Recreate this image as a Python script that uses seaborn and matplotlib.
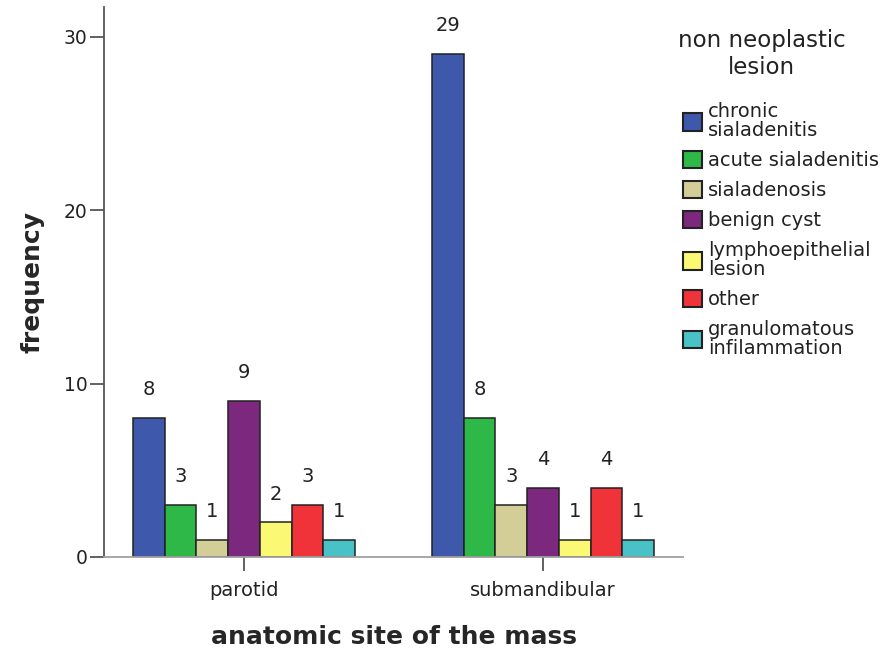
import pandas as pd
import matplotlib.pyplot as plt
import seaborn as sns

sites = ['parotid', 'submandibular']
lesions = ['chronic\nsialadenitis', 'acute sialadenitis', 'sialadenosis', 'benign cyst',
           'lymphoepithelial\nlesion', 'other', 'granulomatous\ninfilammation']
parotid = [8, 3, 1, 9, 2, 3, 1]
submandibular = [29, 8, 3, 4, 1, 4, 1]
colors = ['#3e58ac', '#2eb848', '#d3ce97', '#7b287e', '#fbf873', '#ef3338', '#48c1c7']

df = pd.DataFrame({
    'site': [sites[0]] * len(lesions) + [sites[1]] * len(lesions),
    'lesion': lesions * 2,
    'freq': parotid + submandibular,
})

sns.set_style('white')
plt.rcParams['font.family'] = ['DejaVu Sans']

fig = plt.figure(figsize=(8.9, 6.51), dpi=100)
ax = fig.add_axes([0.1169, 0.1444, 0.6505, 0.8448])

sns.barplot(data=df, x='site', y='freq', hue='lesion', hue_order=lesions, order=sites,
            palette=colors, width=0.742, gap=0, edgecolor='#222222', linewidth=1.1,
            saturation=1, ax=ax)

for c in ax.containers:
    ax.bar_label(c, padding=13.5, fontsize=14, color='#222222')

ax.set_xlim(-0.468, 1.468)
ax.set_ylim(0, 31.7)
ax.set_yticks([0, 10, 20, 30])
ax.tick_params(axis='y', left=True, length=10, width=1.3, color='#555555',
               labelsize=13.5, pad=2, labelcolor='#222222')
ax.tick_params(axis='x', bottom=True, length=10, width=1.3, color='#555555',
               labelsize=14, pad=7, labelcolor='#222222')
for s in ['top', 'right']:
    ax.spines[s].set_visible(False)
ax.spines['left'].set_color('#555555')
ax.spines['left'].set_linewidth(1.3)
ax.spines['bottom'].set_color('#a0a0a0')
ax.spines['bottom'].set_linewidth(1.3)

ax.set_xlabel('anatomic site of the mass', fontsize=18, fontweight='bold', labelpad=18)
ax.set_ylabel('frequency', fontsize=18, fontweight='bold', labelpad=14)

handles, labels = ax.get_legend_handles_labels()
ax.legend_.remove()
fig.text(0.856, 0.955, 'non neoplastic\nlesion', ha='center', va='top', fontsize=16.5,
         linespacing=1.2, color='#222222')
leg = fig.legend(handles, labels, loc='upper left', bbox_to_anchor=(0.7674, 0.843),
                 frameon=False, fontsize=14, handlelength=1.0, handleheight=1.0,
                 handletextpad=0.3, labelspacing=0.55, borderaxespad=0, borderpad=0)
for t in leg.get_texts():
    t.set_linespacing(1.0)
    t.set_color('#222222')
for p in leg.get_patches():
    p.set_linewidth(1.5)

fig.savefig('out.png', dpi=100)
